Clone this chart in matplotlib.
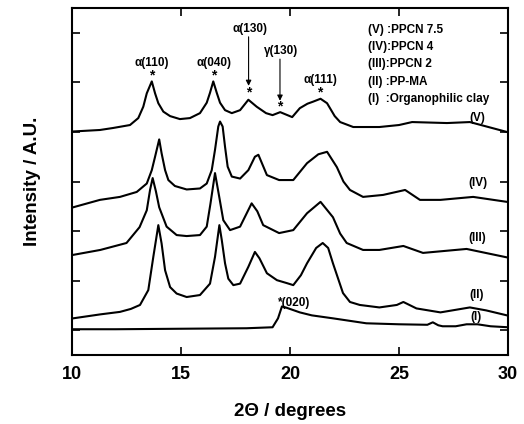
import matplotlib
matplotlib.use('Agg')
import matplotlib.pyplot as plt

plt.rcParams['font.family'] = ['Liberation Sans', 'DejaVu Sans']
plt.rcParams['font.weight'] = 'bold'

# 2-theta, offset intensity (arb. units)
x_I = [10, 12, 15, 18, 19.2, 19.45, 19.63, 19.8, 20.45, 21.0, 21.97, 23.5, 25.0,
       26.3, 26.55, 26.8, 27.0, 27.6, 28.1, 28.6, 29.2, 30]
y_I = [1.02, 1.02, 1.03, 1.04, 1.06, 1.24, 1.48, 1.46, 1.36, 1.30, 1.24, 1.14, 1.12,
       1.11, 1.16, 1.10, 1.08, 1.08, 1.12, 1.12, 1.08, 1.06]

x_II = [10.05, 11.3, 12.20, 12.7, 13.12, 13.50, 13.73, 13.96, 14.11, 14.27, 14.50,
        14.80, 15.26, 15.87, 16.33, 16.56, 16.76, 16.87, 17.02, 17.17, 17.40, 17.71,
        18.09, 18.39, 18.6, 18.94, 19.4, 19.86, 20.15, 20.5, 20.78, 21.2, 21.5, 21.75,
        21.97, 22.43, 22.75, 23.2, 24.1, 24.9, 25.2, 25.8, 26.9, 28.25, 29.0, 29.95]
y_II = [1.24, 1.32, 1.37, 1.43, 1.51, 1.81, 2.48, 3.12, 2.75, 2.21, 1.87,
        1.74, 1.67, 1.71, 1.94, 2.48, 3.12, 2.82, 2.35, 2.04, 1.91, 1.94,
        2.28, 2.58, 2.45, 2.15, 2.01, 1.95, 1.91, 2.11, 2.35, 2.66, 2.76, 2.66,
        2.35, 1.75, 1.57, 1.51, 1.46, 1.51, 1.57, 1.44, 1.36, 1.46, 1.40, 1.30]

x_III = [10.05, 11.3, 12.5, 13.1, 13.43, 13.58, 13.7, 13.85, 14.0, 14.34, 14.80,
         15.26, 15.87, 16.18, 16.35, 16.56, 16.75, 16.94, 17.25, 17.71, 18.24, 18.5,
         18.77, 19.5, 20.15, 20.78, 21.4, 21.97, 22.3, 22.6, 23.35, 24.1, 25.2, 26.1,
         28.1, 29.95]
y_III = [2.52, 2.62, 2.76, 3.08, 3.42, 3.83, 4.07, 3.80, 3.48, 3.09, 2.92,
         2.90, 2.92, 3.09, 3.55, 4.17, 3.70, 3.22, 3.02, 3.09, 3.56, 3.40,
         3.12, 2.96, 3.02, 3.36, 3.59, 3.28, 2.95, 2.76, 2.62, 2.62, 2.70, 2.56,
         2.64, 2.47]

x_IV = [10.05, 11.28, 12.20, 12.97, 13.43, 13.66, 13.81, 14.00, 14.11, 14.27, 14.42,
        14.72, 15.26, 15.87, 16.18, 16.41, 16.56, 16.71, 16.79, 16.91, 17.02, 17.14,
        17.33, 17.71, 18.09, 18.39, 18.55, 18.94, 19.5, 20.15, 20.78, 21.3, 21.7,
        22.15, 22.45, 22.75, 23.35, 24.27, 25.28, 25.96, 26.9, 28.4, 29.95]
y_IV = [3.48, 3.63, 3.69, 3.79, 3.96, 4.23, 4.50, 4.85, 4.57, 4.23, 4.03,
        3.91, 3.84, 3.86, 3.96, 4.23, 4.64, 5.11, 5.21, 5.11, 4.70, 4.30,
        4.10, 4.06, 4.23, 4.50, 4.54, 4.13, 4.03, 4.03, 4.37, 4.55, 4.60,
        4.29, 4.00, 3.83, 3.69, 3.73, 3.83, 3.63, 3.63, 3.69, 3.59]

x_V = [10.05, 11.28, 11.88, 12.66, 13.04, 13.27, 13.43, 13.66, 13.81, 13.96, 14.19,
       14.50, 14.95, 15.41, 15.87, 16.18, 16.33, 16.48, 16.64, 16.79, 17.02, 17.33,
       17.71, 18.09, 18.47, 18.9, 19.2, 19.55, 20.1, 20.45, 20.8, 21.05, 21.4, 21.7,
       22.05, 22.3, 22.9, 24.1, 25.0, 25.6, 27.2, 28.25, 29.95]
y_V = [5.01, 5.04, 5.08, 5.14, 5.28, 5.51, 5.78, 6.02, 5.78, 5.58, 5.41,
       5.32, 5.26, 5.28, 5.38, 5.59, 5.79, 6.02, 5.79, 5.59, 5.44, 5.38,
       5.44, 5.65, 5.51, 5.38, 5.34, 5.40, 5.30, 5.48, 5.57, 5.61, 5.67, 5.58,
       5.32, 5.20, 5.10, 5.10, 5.14, 5.20, 5.18, 5.20, 5.00]

curves = [(x_I, y_I), (x_II, y_II), (x_III, y_III), (x_IV, y_IV), (x_V, y_V)]
curve_labels = ['(I)', '(II)', '(III)', '(IV)', '(V)']
curve_label_pos = [(28.53, 1.26), (28.58, 1.71), (28.58, 2.86), (28.62, 3.97), (28.58, 5.28)]

legend_lines = ['(V) :PPCN 7.5', '(IV):PPCN 4', '(III):PPCN 2', '(II) :PP-MA',
                '(I)  :Organophilic clay']


fig = plt.figure(figsize=(5.24, 4.24), dpi=100)
ax = fig.add_axes([0.1374, 0.1627, 0.8321, 0.8183])

for xs, ys in curves:
    ax.plot(xs, ys, color='black', lw=1.5, solid_joinstyle='round')

for lab, (lx, ly) in zip(curve_labels, curve_label_pos):
    ax.text(lx, ly, lab, ha='center', va='center', fontsize=8.5, fontweight='bold')

# peak labels
ax.text(13.67, 6.39, 'α(110)', ha='center', va='center', fontsize=8.5)
ax.text(13.67, 6.13, '*', ha='center', va='center', fontsize=10)
ax.text(16.51, 6.39, 'α(040)', ha='center', va='center', fontsize=8.5)
ax.text(16.51, 6.13, '*', ha='center', va='center', fontsize=10)
ax.text(18.17, 7.08, 'α(130)', ha='center', va='center', fontsize=8.5)
ax.annotate('', xy=(18.1, 5.93), xytext=(18.1, 6.92),
            arrowprops=dict(arrowstyle='-|>', color='black', lw=0.8,
                            mutation_scale=8, shrinkA=0, shrinkB=0))
ax.text(18.1, 5.79, '*', ha='center', va='center', fontsize=10)
ax.text(19.59, 6.64, 'γ(130)', ha='center', va='center', fontsize=8.5)
ax.annotate('', xy=(19.54, 5.63), xytext=(19.54, 6.47),
            arrowprops=dict(arrowstyle='-|>', color='black', lw=0.8,
                            mutation_scale=8, shrinkA=0, shrinkB=0))
ax.text(19.54, 5.51, '*', ha='center', va='center', fontsize=10)
ax.text(21.38, 6.05, 'α(111)', ha='center', va='center', fontsize=8.5)
ax.text(21.38, 5.79, '*', ha='center', va='center', fontsize=10)
ax.text(19.45, 1.55, '*(020)', ha='left', va='center', fontsize=8.5)

legend_y = [7.06, 6.72, 6.37, 6.01, 5.67]
for txt, ly in zip(legend_lines, legend_y):
    ax.text(23.58, ly, txt, ha='left', va='center', fontsize=8.5)

ax.set_xlim(10, 30)
ax.set_ylim(0.5, 7.5)
ax.set_xticks([10, 15, 20, 25, 30])
ax.set_yticks([1, 2, 3, 4, 5, 6, 7])
ax.set_yticklabels([])
ax.tick_params(direction='in', top=True, right=True, length=6, width=1.2,
               labelsize=13, pad=8)
for s in ax.spines.values():
    s.set_linewidth(1.5)

ax.set_xlabel('2Θ / degrees', fontsize=13.5, fontweight='bold', labelpad=14)
ax.set_ylabel('Intensity / A.U.', fontsize=13.5, fontweight='bold', labelpad=14)

fig.savefig('out.png', dpi=100)
